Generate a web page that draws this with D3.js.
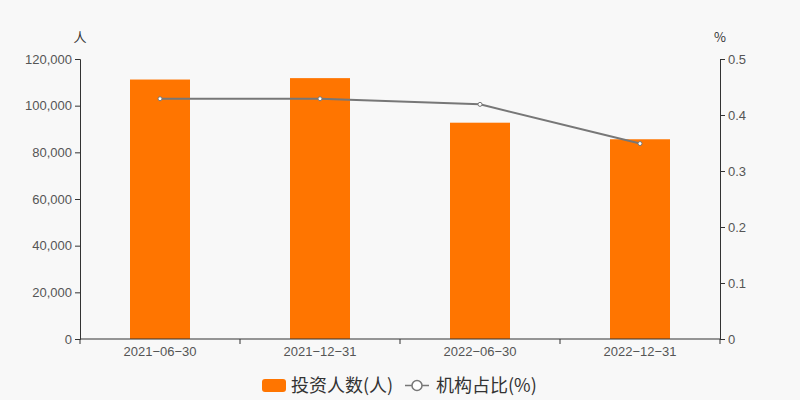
<!DOCTYPE html>
<html lang="zh">
<head>
  <meta charset="UTF-8">
  <title>投资人数</title>
  <script src="https://cdn.jsdelivr.net/npm/d3@7/dist/d3.min.js"></script>
  <style>
    body { margin: 0; background: #f8f8f8; }
    svg { display: block; font-family: "Noto Sans CJK SC", "Liberation Sans", sans-serif; }
  </style>
</head>
<body>
  <div id="chart"></div>
  <script>
    const width = 800, height = 400;
    const margin = { left: 80, right: 80, top: 59, bottom: 61 };

    // 数据
    const categories = ['2021-06-30', '2021-12-31', '2022-06-30', '2022-12-31'];
    const investors = [111200, 111800, 92700, 85600];
    const instRatio = [0.429, 0.429, 0.419, 0.349];
    const leftTicks = [0, 20000, 40000, 60000, 80000, 100000, 120000];
    const rightTicks = [0, 0.1, 0.2, 0.3, 0.4, 0.5];

    const svg = d3.select('#chart').append('svg')
      .attr('width', width).attr('height', height);

    svg.append('rect').attr('width', width).attr('height', height).attr('fill', '#f8f8f8');

    const x = d3.scaleBand().domain(categories)
      .range([margin.left, width - margin.right]);
    const yL = d3.scaleLinear().domain([0, 120000])
      .range([height - margin.bottom, margin.top]);
    const yR = d3.scaleLinear().domain([0, 0.5])
      .range([height - margin.bottom, margin.top]);

    // 柱子
    svg.append('g').selectAll('rect')
      .data(investors)
      .enter().append('rect')
      .attr('x', (d, i) => x(categories[i]) + x.bandwidth() / 2 - 30)
      .attr('y', d => yL(d))
      .attr('width', 60)
      .attr('height', d => yL(0) - yL(d))
      .attr('fill', '#ff7500');

    // 坐标轴
    function styleAxis(g) {
      g.selectAll('path, line').attr('stroke', '#333');
      g.selectAll('text').attr('fill', '#555').style('font-size', '13px')
        .style('font-family', '"Liberation Sans", Arial, sans-serif');
    }

    const xAxis = svg.append('g')
      .attr('transform', 'translate(0,' + (height - margin.bottom) + ')')
      .call(d3.axisBottom(x).tickSize(0).tickPadding(8)
        .tickFormat(d => d.replace(/-/g, '\u2212')));
    xAxis.select('.domain').remove();
    xAxis.append('line').attr('x1', margin.left).attr('x2', width - margin.right)
      .attr('stroke', '#333');
    xAxis.selectAll('.sep')
      .data(d3.range(categories.length + 1))
      .enter().append('line')
      .attr('x1', i => margin.left + i * x.step())
      .attr('x2', i => margin.left + i * x.step())
      .attr('y1', 0).attr('y2', 5)
      .attr('stroke', '#333');
    styleAxis(xAxis);

    const leftAxis = svg.append('g')
      .attr('transform', 'translate(' + margin.left + ',0)')
      .call(d3.axisLeft(yL).tickValues(leftTicks).tickSizeOuter(0).tickSize(5).tickPadding(3)
        .tickFormat(d3.format(',')));
    styleAxis(leftAxis);

    const rightAxis = svg.append('g')
      .attr('transform', 'translate(' + (width - margin.right) + ',0)')
      .call(d3.axisRight(yR).tickValues(rightTicks).tickSizeOuter(0).tickSize(5).tickPadding(3)
        .tickFormat(d => d === 0 ? '0' : d3.format('.1f')(d)));
    styleAxis(rightAxis);

    // 单位
    svg.append('text').attr('x', margin.left).attr('y', 42).attr('text-anchor', 'middle')
      .attr('fill', '#333').style('font-size', '13px').text('人');
    svg.append('text').attr('x', width - margin.right).attr('y', 42).attr('text-anchor', 'middle')
      .attr('fill', '#333').style('font-size', '13px').text('%');

    // 折线
    const line = d3.line()
      .x((d, i) => x(categories[i]) + x.bandwidth() / 2)
      .y(d => yR(d));
    svg.append('path').datum(instRatio)
      .attr('d', line).attr('fill', 'none')
      .attr('stroke', '#777').attr('stroke-width', 2);
    svg.append('g').selectAll('circle')
      .data(instRatio)
      .enter().append('circle')
      .attr('cx', (d, i) => x(categories[i]) + x.bandwidth() / 2)
      .attr('cy', d => yR(d))
      .attr('r', 2)
      .attr('fill', '#fff')
      .attr('stroke', '#777').attr('stroke-width', 1);

    // 图例
    const legend = svg.append('g').attr('transform', 'translate(0,385.5)');
    legend.append('rect').attr('x', 262).attr('y', -6.5).attr('width', 24).attr('height', 13)
      .attr('rx', 3).attr('fill', '#ff7500');
    legend.append('text').attr('x', 291).attr('y', 6.5).attr('fill', '#333')
      .style('font-size', '18px').text('投资人数(人)');
    legend.append('line').attr('x1', 405).attr('x2', 429).attr('y1', 0).attr('y2', 0)
      .attr('stroke', '#777').attr('stroke-width', 1.5);
    legend.append('circle').attr('cx', 417).attr('cy', 0).attr('r', 5)
      .attr('fill', '#fff').attr('stroke', '#777').attr('stroke-width', 1.5);
    legend.append('text').attr('x', 436).attr('y', 6.5).attr('fill', '#333')
      .style('font-size', '18px').text('机构占比(%)');
  </script>
</body>
</html>
